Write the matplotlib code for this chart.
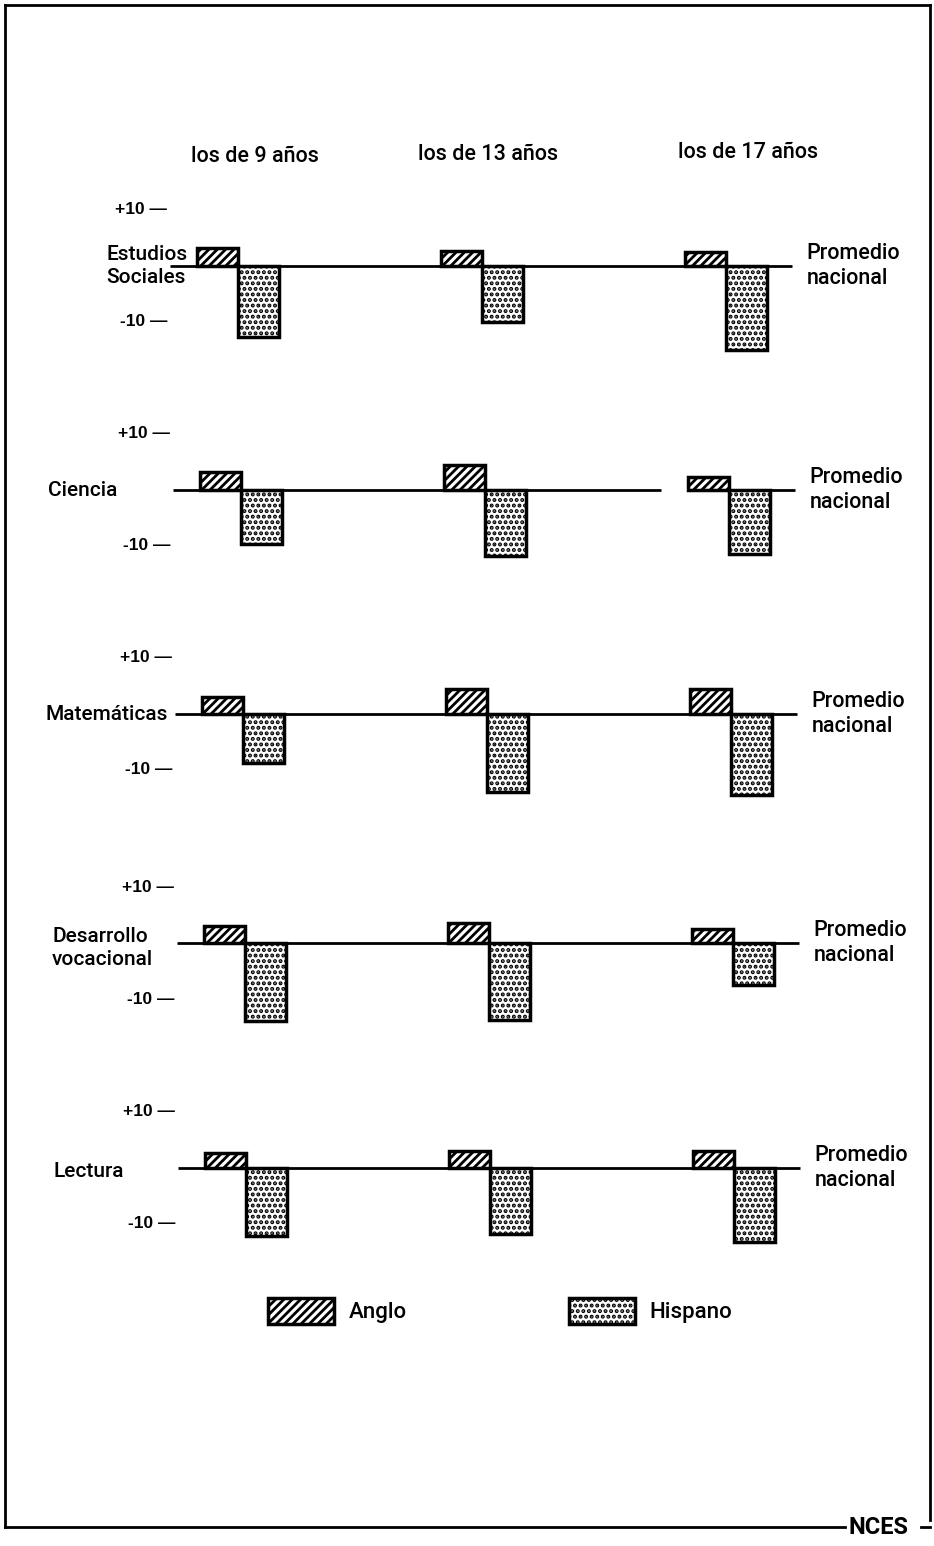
import matplotlib.pyplot as plt
from matplotlib.patches import Patch
import numpy as np

plt.rcParams['font.family'] = ['Roboto', 'DejaVu Sans']
plt.rcParams['font.weight'] = 'medium'
plt.rcParams['hatch.linewidth'] = 2.0

# data: difference from the national average (percentage points)
ages = ['los de 9 años', 'los de 13 años', 'los de 17 años']
subjects = ['Estudios\nSociales', 'Ciencia', 'Matemáticas', 'Desarrollo\nvocacional', 'Lectura']
anglo = [
    [3.3, 2.7, 2.5],
    [3.3, 4.5, 2.3],
    [3.0, 4.5, 4.5],
    [3.0, 3.6, 2.5],
    [2.7, 3.0, 3.0],
]
hispano = [
    [-12.7, -10.0, -15.0],
    [-9.6, -11.7, -11.5],
    [-8.8, -14.0, -14.5],
    [-14.0, -13.7, -7.5],
    [-12.2, -11.7, -13.3],
]

W, H = 934, 1546
fig = plt.figure(figsize=(W / 100, H / 100), dpi=100)

# layout (pixels)
baselines = [266, 490, 714, 943, 1168]
b9 = [238, 241, 243, 245, 246]
unit_x = 244
unit_y = 5.6
label_x = [-0.54, -0.79, -0.81, -0.79, -0.79]
label_y = [0, 0, 0, -0.9, -0.6]
w = 0.168
x = np.arange(len(ages))

for i, subj in enumerate(subjects):
    left = (b9[i] - unit_x) / W
    width = 3.8 * unit_x / W
    bottom = 1 - (baselines[i] + 20 * unit_y) / H
    height = 36 * unit_y / H
    ax = fig.add_axes([left, bottom, width, height])
    ax.set_xlim(-1, 2.8)
    ax.set_ylim(-20, 16)
    ax.axis('off')

    if i == 1:
        ax.hlines(0, -0.28, 1.72, color='black', lw=2)
        ax.hlines(0, 1.85, 2.27, color='black', lw=2)
    else:
        ax.hlines(0, -0.28, 2.27, color='black', lw=2)

    ax.bar(x, anglo[i], width=-w, align='edge', facecolor='white',
           edgecolor='black', hatch='////', lw=2.5, zorder=3)
    ax.bar(x, hispano[i], width=w, align='edge', facecolor='white',
           edgecolor='black', hatch='...', lw=2.5, zorder=3)

    ax.text(-0.29, 10, '+10 —', ha='right', va='center', fontsize=12.5,
            fontweight='bold', family='Liberation Sans')
    ax.text(-0.29, -10, '-10 —', ha='right', va='center', fontsize=12.5,
            fontweight='bold', family='Liberation Sans')
    ax.text(label_x[i], label_y[i], subj, ha='left', va='center', fontsize=15,
            linespacing=1.25)
    ax.text(2.33, 0, 'Promedio\nnacional', ha='left', va='center', fontsize=15.5,
            linespacing=1.25)

# overlay for frame and headings
ov = fig.add_axes([0, 0, 1, 1])
ov.set_xlim(0, W)
ov.set_ylim(H, 0)
ov.axis('off')
ov.plot([5, 930], [5, 5], color='black', lw=2)
ov.plot([5, 5], [5, 1527], color='black', lw=2)
ov.plot([930, 930], [5, 1520], color='black', lw=2)
ov.plot([5, 845], [1527, 1527], color='black', lw=2)
ov.text(849, 1527, 'NCES', ha='left', va='center', fontsize=17, fontweight='bold')
ov.plot([921, 930], [1527, 1527], color='black', lw=2)

for cx, cy, lab in zip([255, 488, 748], [157, 155, 153], ages):
    ov.text(cx, cy, lab, ha='center', va='center', fontsize=15.5)

handles = [
    Patch(facecolor='white', edgecolor='black', hatch='////', lw=2.5),
    Patch(facecolor='white', edgecolor='black', hatch='...', lw=2.5),
]
fig.legend(handles, ['Anglo', 'Hispano'], loc='center',
           bbox_to_anchor=(500 / W, 1 - 1311 / H), ncol=2, frameon=False,
           fontsize=16, handlelength=3.0, handleheight=1.45,
           columnspacing=7.3, handletextpad=0.63)

fig.savefig('out.png', dpi=100)
